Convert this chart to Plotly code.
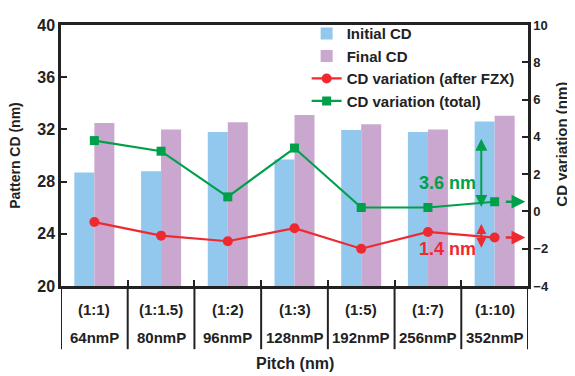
import plotly.graph_objects as go

ratios = ["(1:1)", "(1:1.5)", "(1:2)", "(1:3)", "(1:5)", "(1:7)", "(1:10)"]
pitches = ["64nmP", "80nmP", "96nmP", "128nmP", "192nmP", "256nmP", "352nmP"]
initial_cd = [28.7, 28.8, 31.8, 29.7, 31.95, 31.8, 32.6]
final_cd = [32.5, 32.0, 32.55, 33.1, 32.4, 32.0, 33.05]
var_after_fzx = [-0.57, -1.3, -1.6, -0.9, -2.0, -1.1, -1.4]
var_total = [3.8, 3.23, 0.78, 3.4, 0.21, 0.21, 0.52]

x = list(range(len(ratios)))
BLUE = "#93C8EE"
PURPLE = "#C9A7CF"
RED = "#EE2A30"
GREEN = "#00A04B"
INK = "#222"
FONT = "Liberation Sans, Arial, sans-serif"


def f(size, color=INK):
    return dict(size=size, family=FONT, color=color, weight="bold")


fig = go.Figure()
fig.add_trace(go.Bar(x=x, y=initial_cd, name="Initial CD", marker=dict(color=BLUE, line=dict(width=0))))
fig.add_trace(go.Bar(x=x, y=final_cd, name="Final CD", marker=dict(color=PURPLE, line=dict(width=0))))
fig.add_trace(go.Scatter(x=x, y=var_after_fzx, name="CD variation (after FZX)", yaxis="y2",
                         mode="lines+markers", line=dict(color=RED, width=2.2),
                         marker=dict(symbol="circle", size=10, color=RED)))
fig.add_trace(go.Scatter(x=x, y=var_total, name="CD variation (total)", yaxis="y2",
                         mode="lines+markers", line=dict(color=GREEN, width=2.2),
                         marker=dict(symbol="square", size=9, color=GREEN)))

shapes = []
for b in [i - 0.5 for i in range(len(x) + 1)]:
    shapes.append(dict(type="line", xref="x", yref="paper", x0=b, x1=b, y0=0, y1=-0.242,
                       line=dict(color=INK, width=2)))

annotations = []
for i in x:
    annotations.append(dict(x=i, y=-0.089, xref="x", yref="paper", text=ratios[i], showarrow=False,
                            xanchor="center", yanchor="middle", font=f(15)))
    annotations.append(dict(x=i, y=-0.197, xref="x", yref="paper", text=pitches[i], showarrow=False,
                            xanchor="center", yanchor="middle", font=f(15)))
annotations.append(dict(x=0.5, y=-0.297, xref="paper", yref="paper", text="Pitch (nm)", showarrow=False,
                        xanchor="center", yanchor="middle", font=f(16)))
annotations.append(dict(x=-0.1, y=0.5, xref="paper", yref="paper", text="Pattern CD (nm)",
                        showarrow=False, textangle=-90, xanchor="center", yanchor="middle", font=f(14)))
annotations.append(dict(x=1.094, y=0.543, xref="paper", yref="paper", text="CD variation (nm)",
                        showarrow=False, textangle=-90, xanchor="right", yanchor="middle", font=f(15)))

# range arrows (tiny invisible text so arrow tips land exactly on the data points)
tiny = dict(size=1, color="rgba(0,0,0,0)")
xa = 5.8
gmax, gmin = max(var_total), min(var_total)
rmax, rmin = max(var_after_fzx), min(var_after_fzx)
annotations.append(dict(x=xa, y=gmax + 0.1, ax=xa, ay=gmin, xref="x", yref="y2", axref="x", ayref="y2",
                        showarrow=True, arrowhead=2, startarrowhead=2, arrowside="end+start",
                        arrowsize=1.2, arrowwidth=2, arrowcolor=GREEN, text="", font=tiny, borderpad=0))
annotations.append(dict(x=xa, y=-0.67, ax=xa, ay=rmin + 0.03, xref="x", yref="y2", axref="x", ayref="y2",
                        showarrow=True, arrowhead=2, startarrowhead=2, arrowside="end+start",
                        arrowsize=1.0, arrowwidth=2, arrowcolor=RED, text="", font=tiny, borderpad=0))
annotations.append(dict(x=6.46, y=var_total[-1], ax=6.16, ay=var_total[-1], xref="x", yref="y2",
                        axref="x", ayref="y2", showarrow=True, arrowhead=2, arrowsize=1.1,
                        arrowwidth=2.5, arrowcolor=GREEN, text="", font=tiny, borderpad=0))
annotations.append(dict(x=6.46, y=var_after_fzx[-1], ax=6.16, ay=var_after_fzx[-1], xref="x", yref="y2",
                        axref="x", ayref="y2", showarrow=True, arrowhead=2, arrowsize=1.1,
                        arrowwidth=2.5, arrowcolor=RED, text="", font=tiny, borderpad=0))
annotations.append(dict(x=5.30, y=1.51, xref="x", yref="y2", text=f"{gmax - gmin:.1f} nm", showarrow=False,
                        font=f(18, GREEN)))
annotations.append(dict(x=5.29, y=-2.0, xref="x", yref="y2", text=f"{rmax - rmin:.1f} nm", showarrow=False,
                        font=f(18, RED)))

# page body has an 8px default margin, so the figure is 8px smaller with margins reduced accordingly
fig.update_layout(
    width=567, height=368,
    margin=dict(l=53, r=47, t=9, b=90),
    paper_bgcolor="white", plot_bgcolor="white",
    font=dict(family=FONT, color=INK, weight="bold"),
    barmode="group", bargap=0.4, bargroupgap=0,
    showlegend=True,
    legend=dict(x=0.526, y=1.03, xanchor="left", yanchor="top", bgcolor="rgba(0,0,0,0)",
                font=f(15), tracegroupgap=0, itemwidth=30),
    xaxis=dict(range=[-0.5, 6.5], tickvals=[i + 0.5 for i in range(6)], showticklabels=False,
               ticks="inside", ticklen=6, tickwidth=2, tickcolor=INK, automargin=False,
               showline=True, linecolor=INK, linewidth=2.5, mirror=True, showgrid=False, zeroline=False),
    yaxis=dict(range=[20, 40], dtick=4, ticks="inside", ticklen=6, tickwidth=2, tickcolor=INK,
               showline=True, linecolor=INK, linewidth=2.5, showgrid=False, zeroline=False,
               tickfont=f(16), automargin=False),
    yaxis2=dict(range=[-4, 10], dtick=2, overlaying="y", side="right", ticks="inside", ticklen=6,
                tickwidth=2, tickcolor=INK, showline=True, linecolor=INK, linewidth=2.5,
                showgrid=False, zeroline=False, tickfont=f(13), automargin=False),
    shapes=shapes, annotations=annotations,
)
fig.write_html("out.html")
